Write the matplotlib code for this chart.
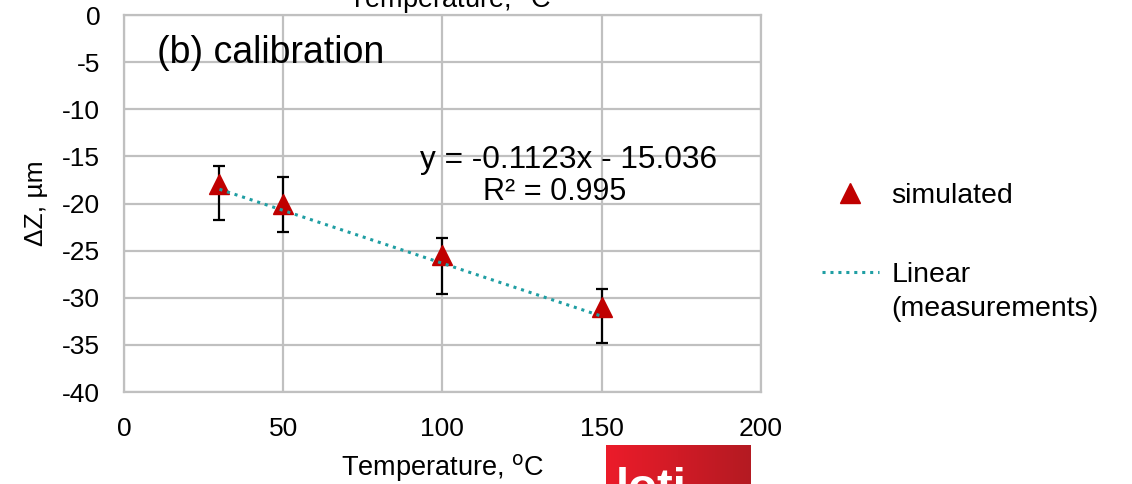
import numpy as np
import matplotlib
matplotlib.use("Agg")
import matplotlib.pyplot as plt

plt.rcParams['font.family'] = ['Liberation Sans', 'DejaVu Sans']
plt.rcParams['axes.unicode_minus'] = False

# data
temps = [30, 50, 100, 150]
simulated = [-17.9, -20.1, -25.5, -31.0]
measurements = [-18.9, -20.1, -26.6, -31.9]
meas_err = [2.9, 2.9, 2.95, 2.85]

x_ticks = [0, 50, 100, 150, 200]
y_ticks = [0, -5, -10, -15, -20, -25, -30, -35, -40]

eq_text = "y = -0.1123x - 15.036"
r2_text = "R² = 0.995"

grid_col = '#c0c0c0'
teal = '#1f9ea3'
red = '#c00000'

fig = plt.figure(figsize=(11.32, 4.84), dpi=100)
ax = fig.add_axes([0.1095, 0.190, 0.5625, 0.779])

# hidden measurement series, only error bars shown
ax.errorbar(temps, measurements, yerr=meas_err, fmt='none', ecolor='black',
            elinewidth=1.6, capsize=4, capthick=1.6, zorder=2)
ax.plot(temps, simulated, linestyle='none', marker='^', markersize=15,
        color=red, label='simulated', zorder=3)

# linear trendline of the measurements
k, b = np.polyfit(temps, measurements, 1)
xt = np.array([temps[0], temps[-1]])
ax.plot(xt, k * xt + b, color=teal, linestyle=(0, (1, 1.6)), linewidth=2.2,
        label='Linear', zorder=4)

ax.set_xlim(0, 200)
ax.set_ylim(-40, 0)
ax.set_xticks(x_ticks)
ax.set_yticks(y_ticks)
ax.tick_params(length=0, labelsize=19)
ax.tick_params(axis='x', pad=18)
ax.tick_params(axis='y', pad=17)
ax.grid(True, color=grid_col, linewidth=1.6)
ax.set_axisbelow(True)
for s in ax.spines.values():
    s.set_color(grid_col)
    s.set_linewidth(1.6)

ax.set_xlabel('Temperature, $^{\\mathrm{o}}$C', fontsize=19.5, labelpad=8)
ax.set_ylabel('ΔZ, µm', fontsize=19, labelpad=10)

ax.text(0.052, 0.9, '(b) calibration', transform=ax.transAxes,
        fontsize=27, va='center', ha='left')
ax.text(0.698, 0.615, eq_text, transform=ax.transAxes, fontsize=22.8,
        ha='center', va='center')
ax.text(0.677, 0.53, r2_text, transform=ax.transAxes, fontsize=22,
        ha='center', va='center')

handles, labels = ax.get_legend_handles_labels()
leg = fig.legend(handles, labels, loc='center left',
                 bbox_to_anchor=(0.726, 0.513), frameon=False,
                 fontsize=20.5, labelspacing=1.85, handlelength=2.0,
                 handletextpad=0.45, borderaxespad=0, borderpad=0)

# second line of the trendline label, under "Linear"
fig.canvas.draw()
bb = leg.get_texts()[1].get_window_extent()
fig.text(bb.x0 / fig.bbox.width, (bb.y0 - 34) / fig.bbox.height,
         '(measurements)', fontsize=20.5, ha='left', va='bottom')

# clipped remnants at the figure edges
fig.text(0.397, 1.0, 'Temperature, $^{\\mathrm{o}}$C', fontsize=19.5,
         ha='center', va='center')
lax = fig.add_axes([0.535, 0.0, 0.128, 0.081])
grad = np.linspace(0, 1, 256).reshape(1, -1)
lax.imshow(grad, aspect='auto', extent=(0, 1, 0, 1),
           cmap=matplotlib.colors.LinearSegmentedColormap.from_list(
               'logo', ['#ec1c2a', '#b41a22']))
lax.text(0.07, -0.68, 'loti', color='white', fontsize=34,
         fontweight='bold', ha='left', va='bottom')
lax.set_xlim(0, 1)
lax.set_ylim(0, 1)
lax.axis('off')

fig.savefig('out.png', dpi=100)
